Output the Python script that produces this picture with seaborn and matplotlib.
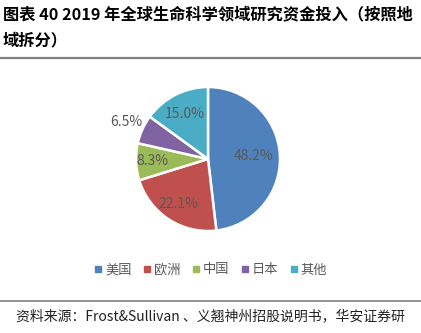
import numpy as np
import matplotlib
matplotlib.use("Agg")
import matplotlib.pyplot as plt
import seaborn as sns
from matplotlib.lines import Line2D

sns.set_theme(style="white")
plt.rcParams['font.family'] = ['Noto Sans CJK SC', 'DejaVu Sans']

regions = ["美国", "欧洲", "中国", "日本", "其他"]
shares = [48.2, 22.1, 8.3, 6.5, 15.0]
colors = ["#4F81BD", "#C0504D", "#9BBB59", "#8064A2", "#4BACC6"]
pct_dist = [0.64, 0.75, 0.77, 1.24, 0.70]

title_lines = ["图表 40 2019 年全球生命科学领域研究资金投入（按照地", "域拆分）"]
source = "资料来源：Frost&Sullivan 、义翘神州招股说明书，华安证券研"

W, H = 421, 333
fig = plt.figure(figsize=(W / 100, H / 100), dpi=100)
fig.patch.set_facecolor("white")

# title
fig.text(3 / W, 1 - 14 / H, title_lines[0], fontsize=11.7, fontweight="bold",
         va="center", ha="left", color="#000000")
fig.text(3 / W, 1 - 40 / H, title_lines[1], fontsize=11.7, fontweight="bold",
         va="center", ha="left", color="#000000")
fig.add_artist(Line2D([0, 1], [1 - 58 / H, 1 - 58 / H], color="#7f7f7f", lw=1.6))
fig.add_artist(Line2D([0, 1], [1 - 301 / H, 1 - 301 / H], color="#7f7f7f", lw=1.2))
fig.text(16 / W, 1 - 316 / H, source, fontsize=10, va="center", ha="left", color="#222222")

# pie
cx, cy, r = 208, 159, 72
ax = fig.add_axes([(cx - r) / W, (H - cy - r) / H, 2 * r / W, 2 * r / H])
wedges, _ = ax.pie(shares, colors=colors, startangle=90, counterclock=False,
                   wedgeprops=dict(edgecolor="white", linewidth=1.8))
for w, v, d in zip(wedges, shares, pct_dist):
    ang = np.deg2rad((w.theta1 + w.theta2) / 2)
    ax.text(d * np.cos(ang), d * np.sin(ang), f"{v:.1f}%", ha="center", va="center",
            fontsize=10, color="#595959")
ax.set_xlim(-1, 1)
ax.set_ylim(-1, 1)
ax.set_aspect("equal")
ax.axis("off")

# legend
handles = [Line2D([], [], marker="s", linestyle="", markersize=4, color=c) for c in colors]
fig.legend(handles, regions, loc="center", bbox_to_anchor=(211 / W, 1 - 270 / H), ncol=5,
           frameon=False, fontsize=9.5, labelcolor="#595959", handlelength=0.5,
           handletextpad=0.3, columnspacing=0.9)

fig.savefig("out.png", dpi=100, facecolor="white")
